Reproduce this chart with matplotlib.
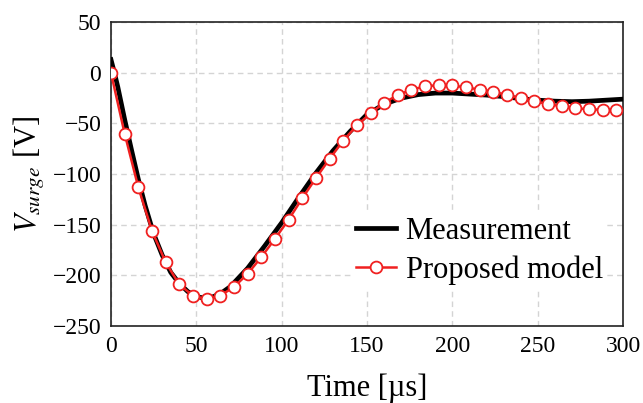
import matplotlib
matplotlib.use("Agg")
import matplotlib.pyplot as plt

plt.rcParams['font.family'] = ['Liberation Serif', 'DejaVu Serif']
plt.rcParams['mathtext.fontset'] = 'stix'

# Measurement (black line)
t_meas = [0, 2, 4, 8, 12, 16, 20, 25, 30, 35, 40, 45, 50, 55, 60, 65, 70, 80, 90, 100,
          110, 120, 130, 140, 150, 160, 170, 180, 190, 200, 210, 220, 230, 240, 250,
          260, 270, 280, 290, 300]
v_meas = [13, 0, -14, -46, -76, -105, -131, -159, -180, -197, -208, -216, -221, -222.5, -221,
          -217, -211, -193, -171, -148, -123, -99, -77, -58, -41, -31, -25, -21.5, -20, -20,
          -21, -22, -23.5, -25.5, -27, -28, -28.5, -28, -27, -26]

# Proposed model (red markers)
t_model = [0, 8, 16, 24, 32, 40, 48, 56, 64, 72, 80, 88, 96, 104, 112, 120, 128, 136,
           144, 152, 160, 168, 176, 184, 192, 200, 208, 216, 224, 232, 240, 248, 256,
           264, 272, 280, 288, 296]
v_model = [0, -60, -113, -156, -187, -209, -220, -223.5, -220, -211.5, -198.5, -182,
           -164, -145, -124, -104, -85, -67, -52, -40, -29.5, -22, -16.5, -13.5, -12,
           -12.5, -14.5, -16.5, -18.5, -22, -25, -28, -31, -33, -35, -36, -36.5, -37]

xticks = [0, 50, 100, 150, 200, 250, 300]
yticks = [50, 0, -50, -100, -150, -200, -250]

fig = plt.figure(figsize=(6.43, 4.03), dpi=100)
ax = fig.add_axes([0.1726, 0.191, 0.7966, 0.754])

ax.plot(t_meas, v_meas, color='black', lw=3.4, label='Measurement', zorder=3)
ax.plot(t_model, v_model, color='#f02020', lw=1.8, marker='o', markersize=8.5,
        markerfacecolor='white', markeredgecolor='#f02020', markeredgewidth=1.3,
        label='Proposed model', zorder=4)

ax.set_xlim(0, 300)
ax.set_ylim(-250, 50)
ax.set_xticks(xticks)
ax.set_yticks(yticks)
ax.tick_params(length=0, labelsize=17, pad=7)
ax.set_yticklabels([str(v).replace('-', '\u2212') for v in yticks])
ax.set_xticklabels([str(v) for v in xticks])

ax.grid(True, color='#d4d4d4', linestyle=(0, (4, 3)), linewidth=1.0)
ax.set_axisbelow(True)
for s in ax.spines.values():
    s.set_linewidth(1.2)
    s.set_color('#222222')

ax.set_xlabel('Time [\u00b5s]', fontsize=22, labelpad=12)
ax.set_ylabel(r'$V_{surge}$ [V]', fontsize=22, labelpad=4)

leg = ax.legend(loc='center left', bbox_to_anchor=(0.472, 0.248), fontsize=22,
                frameon=True, fancybox=False, handlelength=1.3, handletextpad=0.33,
                borderpad=0.1, labelspacing=0.32, borderaxespad=0)
leg.get_frame().set_edgecolor('none')
leg.get_frame().set_facecolor('white')
leg.get_frame().set_alpha(1)

fig.savefig('out.png', dpi=100)
